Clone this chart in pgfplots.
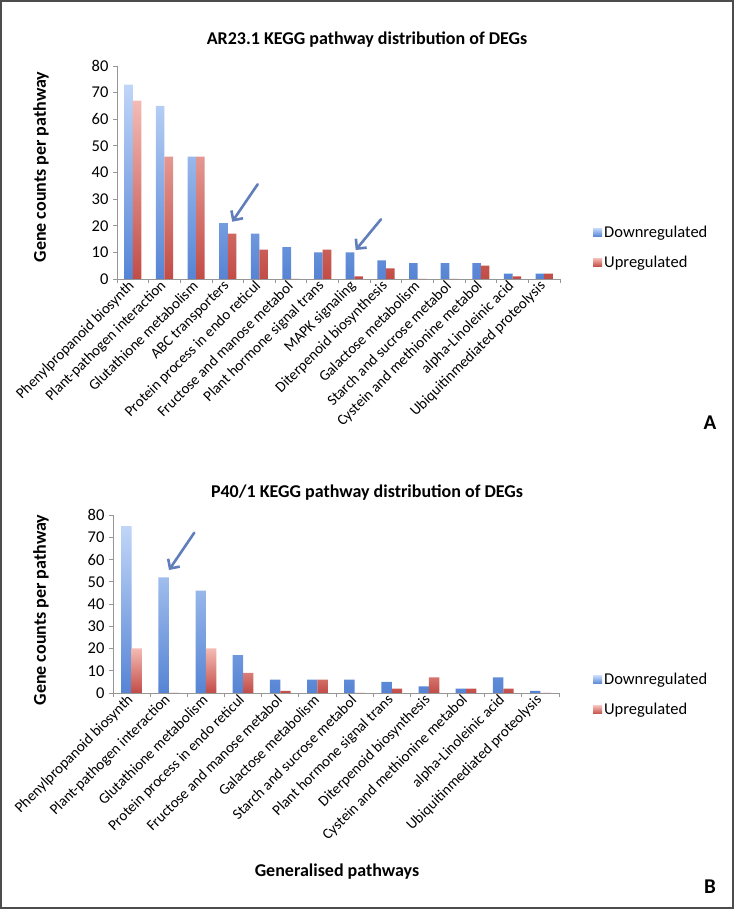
\documentclass[border=0pt]{standalone}
\usepackage{pgfplots}
\pgfplotsset{compat=1.18}
\usepackage{fontspec}
\setmainfont{Carlito}
\usetikzlibrary{arrows.meta}
\definecolor{blueT}{RGB}{192,214,248}
\definecolor{blueB}{RGB}{86,132,212}
\definecolor{redT}{RGB}{244,186,180}
\definecolor{redB}{RGB}{194,76,70}
\definecolor{arrowc}{RGB}{96,126,186}
\definecolor{axisgray}{RGB}{150,150,150}

\tikzset{
  arr/.style={draw=arrowc, line width=2.6pt, line cap=round, -{Straight Barb[length=7pt,width=14pt,line width=2.6pt]}},
  boldlab/.style={font=\bfseries\fontsize{18}{21}\selectfont},
}
\pgfplotsset{
  kegg/.style={
    scale only axis,
    anchor=south west,
    axis x line=bottom, axis y line=left,
    axis line style={-, draw=axisgray, line width=0.8pt},
    ymin=0, ymax=80, ytick={0,10,...,80},
    enlargelimits=false,
    tick align=outside,
    major tick length=4pt, minor tick length=4pt,
    ytick style={draw=axisgray, line width=0.8pt},
    major x tick style={draw=none},
    minor x tick style={draw=axisgray, line width=0.8pt},
    ybar=0pt,
    /pgf/number format/assume math mode=true,
    yticklabel style={font=\fontsize{16.5}{19}\selectfont, xshift=-1pt},
    xticklabel style={font=\fontsize{15}{18}\selectfont, rotate=45, anchor=east, inner sep=1pt},
    clip=false,
    legend cell align=left,
    legend image code/.code={\path[##1,draw=none] (0pt,-4pt) rectangle (9pt,4pt);},
  },
  down/.style={draw=none, top color=blueT, bottom color=blueB},
  up/.style={draw=none, top color=redT, bottom color=redB},
}

\begin{document}
\begin{tikzpicture}
\useasboundingbox (0pt,0pt) rectangle (734pt,909pt);
\draw[line width=2pt, black!70] (1pt,1pt) rectangle (733pt,908pt);

% ---------------- Panel A ----------------
\node[boldlab] at (367pt,869pt) {AR23.1 KEGG pathway distribution of DEGs};
\node[boldlab, rotate=90] at (41pt,742pt) {Gene counts per pathway};
\node[font=\bfseries\fontsize{21}{24}\selectfont] at (710pt,486pt) {A};

\begin{axis}[kegg,
  at={(117pt,630pt)}, width=443pt, height=213pt,
  xmin=-0.5, xmax=13.5,
  xtick={0,...,13},
  minor xtick={-0.5,0.5,...,13.5},
  xticklabels={Phenylpropanoid biosynth,Plant-pathogen interaction,Glutathione metabolism,ABC transporters,Protein process in endo reticul,Fructose and manose metabol,Plant hormone signal trans,MAPK signaling,Diterpenoid biosynthesis,Galactose metabolism,Starch and sucrose metabol,Cystein and methionine metabol,alpha-Linoleinic acid,Ubiquitinmediated proteolysis},
  bar width=8.6pt,
  legend style={at={(1.0745,0.148)}, anchor=west, draw=none, fill=none, inner sep=0pt,
    font=\fontsize{16.5}{19}\selectfont, row sep=13pt},
]
\addplot[down] coordinates {(0,73) (1,65) (2,46) (3,21) (4,17) (5,12) (6,10) (7,10) (8,7) (9,6) (10,6) (11,6) (12,2) (13,2)};
\addplot[up] coordinates {(0,67) (1,46) (2,46) (3,17) (4,11) (5,0) (6,11) (7,1) (8,4) (9,0) (10,0) (11,5) (12,1) (13,2)};
\legend{Downregulated,Upregulated}
\draw[arr] (axis cs:3.946,35.57) -- (axis cs:3.141,21.52);
\draw[arr] (axis cs:7.843,22.42) -- (axis cs:7.043,10.89);
\end{axis}

% ---------------- Panel B ----------------
\node[boldlab] at (367pt,416pt) {P40/1 KEGG pathway distribution of DEGs};
\node[boldlab, rotate=90] at (41pt,299pt) {Gene counts per pathway};
\node[boldlab] at (337pt,37pt) {Generalised pathways};
\node[font=\bfseries\fontsize{21}{24}\selectfont] at (710pt,22pt) {B};

\begin{axis}[kegg,
  at={(113pt,216pt)}, width=446pt, height=178pt,
  xmin=-0.5, xmax=11.5,
  xtick={0,...,11},
  minor xtick={-0.5,0.5,...,11.5},
  xticklabels={Phenylpropanoid biosynth,Plant-pathogen interaction,Glutathione metabolism,Protein process in endo reticul,Fructose and manose metabol,Galactose metabolism,Starch and sucrose metabol,Plant hormone signal trans,Diterpenoid biosynthesis,Cystein and methionine metabol,alpha-Linoleinic acid,Ubiquitinmediated proteolysis},
  bar width=10.4pt,
  legend style={at={(1.076,-0.011)}, anchor=west, draw=none, fill=none, inner sep=0pt,
    font=\fontsize{16.5}{19}\selectfont, row sep=13pt},
]
\addplot[down] coordinates {(0,75) (1,52) (2,46) (3,17) (4,6) (5,6) (6,6) (7,5) (8,3) (9,2) (10,7) (11,1)};
\addplot[up] coordinates {(0,20) (1,0) (2,20) (3,9) (4,1) (5,6) (6,0) (7,2) (8,7) (9,2) (10,2) (11,0)};
\legend{Downregulated,Upregulated}
\draw[arr] (axis cs:1.687,72.04) -- (axis cs:1.007,55.28);
\end{axis}
\end{tikzpicture}
\end{document}
